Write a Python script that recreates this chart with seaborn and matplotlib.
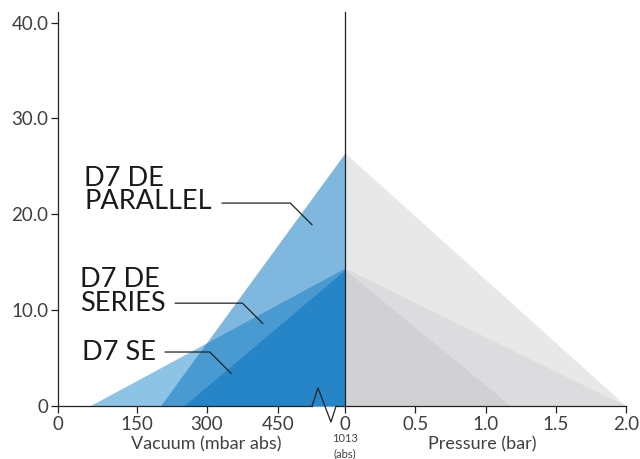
import numpy as np
import matplotlib
matplotlib.use("Agg")
import matplotlib.pyplot as plt
import seaborn as sns

# pump curves: flow vs vacuum (left) and vs pressure (right)
models = ["D7 SE", "D7 DE SERIES", "D7 DE PARALLEL"]
label_text = ["D7 SE", "D7 DE\nSERIES", "D7 DE\nPARALLEL"]
vac_start = [250, 60, 200]        # mbar abs where flow drops to 0
atm_flow = [14.2, 14.4, 26.4]     # flow at atmosphere (1013 mbar abs = 0 bar)
max_pressure = [1.18, 2.0, 2.0]   # bar where flow drops to 0
ATM = 1013

vac_ticks = [0, 150, 300, 450]
pres_ticks = [0, 0.5, 1.0, 1.5, 2.0]
pres_labels = ["0", "0.5", "1.0", "1.5", "2.0"]
y_ticks = [0, 10, 20, 30, 40]
y_labels = ["0", "10.0", "20.0", "30.0", "40.0"]

# broken vacuum axis -> piecewise scale
vac_knots = [0, 150, 300, 450, ATM]
pos_knots = [0, 79, 149, 220, 287]

blue = {"D7 DE SERIES": ("#8dc3e4", 1.0),
        "D7 DE PARALLEL": ("#0b75c0", 0.52),
        "D7 SE": ("#2585c7", 1.0)}
grey = {"D7 DE PARALLEL": "#e8e8e9",
        "D7 DE SERIES": "#dcdcdf",
        "D7 SE": "#d1d1d3"}
order_left = ["D7 DE SERIES", "D7 DE PARALLEL", "D7 SE"]
order_right = ["D7 DE PARALLEL", "D7 DE SERIES", "D7 SE"]

sns.set_theme(style="white")
plt.rcParams['font.family'] = ['Lato', 'DejaVu Sans']

INK = "#222222"
TICK = "#404040"

fig = plt.figure(figsize=(6.4, 4.59), dpi=100)
axl = fig.add_axes([58/640, 53/459, 287/640, 394/459])
axr = fig.add_axes([345/640, 53/459, 281/640, 394/459])

fwd = lambda v: np.interp(v, vac_knots, pos_knots)
inv = lambda p: np.interp(p, pos_knots, vac_knots)
axl.set_xscale('function', functions=(fwd, inv))

for m in order_left:
    i = models.index(m)
    c, a = blue[m]
    axl.fill_between([vac_start[i], ATM], [0, atm_flow[i]], color=c, alpha=a, lw=0)
for m in order_right:
    i = models.index(m)
    axr.fill_between([0, max_pressure[i]], [atm_flow[i], 0], color=grey[m], lw=0)

for ax in (axl, axr):
    ax.set_ylim(0, 41.1)
    ax.set_facecolor("none")
    for s in ax.spines.values():
        s.set_color(INK)
        s.set_linewidth(0.9)
    ax.spines['top'].set_visible(False)
    ax.spines['right'].set_visible(False)
    ax.tick_params(axis='x', direction='out', length=5, width=0.9, color=INK,
                   labelsize=13.5, labelcolor=TICK, pad=2, bottom=True)

axl.set_xlim(0, ATM)
axl.set_xticks(vac_ticks)
axl.set_xticklabels([str(t) for t in vac_ticks])
axl.set_yticks(y_ticks)
axl.set_yticklabels(y_labels)
axl.tick_params(axis='y', direction='out', length=5, width=0.9, color=INK,
                labelsize=13.5, labelcolor=TICK, pad=2, left=True)

axr.set_xlim(0, 2.0)
axr.set_xticks(pres_ticks)
axr.set_xticklabels(pres_labels)
axr.tick_params(axis='y', left=False, labelleft=False)

# axis break on the vacuum side
axl.spines['bottom'].set_bounds(0, inv(254))
axl.plot([inv(278), ATM], [0, 0], color=INK, lw=0.9, clip_on=False, solid_capstyle='butt')
axl.plot([0.885, 0.906, 0.951, 0.969], [0, 0.0457, -0.0406, 0], transform=axl.transAxes,
         color=INK, lw=0.9, clip_on=False)

axl.set_xlabel("Vacuum (mbar abs)", fontsize=13, color=TICK)
axl.xaxis.set_label_coords(0.516, -0.078)
axr.set_xlabel("Pressure (bar)", fontsize=13, color=TICK)
axr.xaxis.set_label_coords(0.4875, -0.078)
axr.text(0, -0.068, "1013\n(abs)", transform=axr.get_xaxis_transform(), ha='center', va='top',
         fontsize=8, color=TICK, clip_on=False, linespacing=1.5)

# model labels with leader lines
label_pos = [(0.084, 0.136), (0.077, 0.291), (0.091, 0.548)]
leader_start = [(0.373, 0.137), (0.408, 0.261), (0.571, 0.515)]
leader_end = [(351, 3.4), (418, 8.6), (736, 18.9)]
for i, m in enumerate(models):
    axl.text(*label_pos[i], label_text[i], transform=axl.transAxes, ha='left', va='center',
             fontsize=19.5, color="#1a1a1a", linespacing=0.92)
    axl.annotate("", xy=leader_end[i], xycoords='data', xytext=leader_start[i],
                 textcoords='axes fraction',
                 arrowprops=dict(arrowstyle='-', color=INK, lw=0.9, shrinkA=0, shrinkB=0,
                                 connectionstyle='angle,angleA=0,angleB=-45,rad=0'))

fig.savefig("out.png", dpi=100)
